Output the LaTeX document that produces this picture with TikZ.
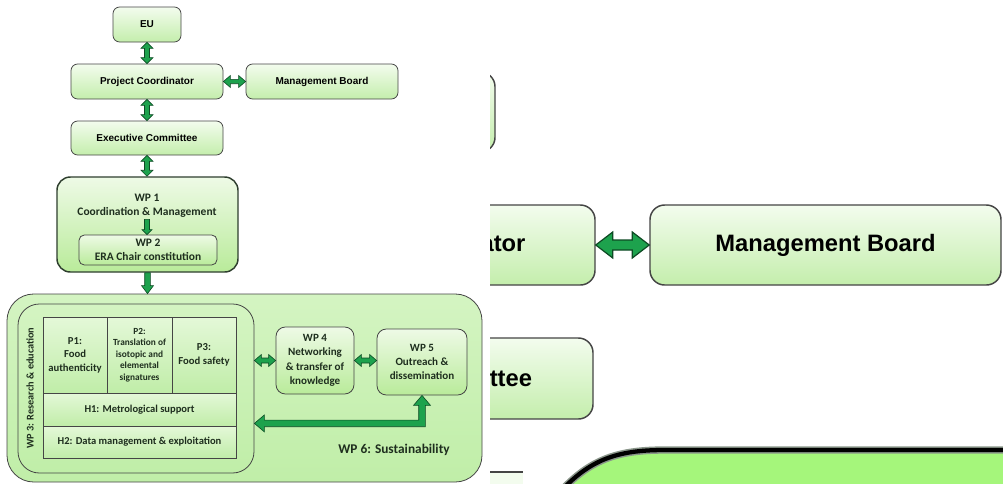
\documentclass[tikz,border=0pt]{standalone}
\usepackage{fontspec}
\newfontfamily\arialf{Liberation Sans}
\newfontfamily\carl{Carlito}
\usetikzlibrary{calc}

\definecolor{boxline}{HTML}{454545}
\definecolor{wp1line}{HTML}{2E3E2E}
\definecolor{topA}{HTML}{F3FCEE}
\definecolor{topB}{HTML}{C4EEAC}
\definecolor{wpA}{HTML}{EEFAE6}
\definecolor{wpB}{HTML}{B9EB9A}
\definecolor{outerA}{HTML}{D4F4C2}
\definecolor{outerB}{HTML}{C0EEA8}
\definecolor{cellA}{HTML}{E4F8D8}
\definecolor{cellB}{HTML}{C0EDA8}
\definecolor{txt}{HTML}{1E2E1E}
\definecolor{agreen}{HTML}{1DA24D}
\definecolor{adark}{HTML}{0E4A24}
\definecolor{brightgreen}{HTML}{A5F67B}
\definecolor{halo}{HTML}{8A968A}

% vertical double-headed block arrow: #1 upper end, #2 anchor giving the lower end,
% #3 head length, #4 head half-width, #5 shaft half-width
\newcommand\dblV[5]{%
  \coordinate (vT) at (#1);
  \coordinate (vB) at (vT |- #2);
  \draw[fatarrow] (vT) -- ($(vT)+(#4,#3)$) -- ($(vT)+(#5,#3)$) -- ($(vB)+(#5,-#3)$)
    -- ($(vB)+(#4,-#3)$) -- (vB) -- ($(vB)+(-#4,-#3)$) -- ($(vB)+(-#5,-#3)$)
    -- ($(vT)+(-#5,#3)$) -- ($(vT)+(-#4,#3)$) -- cycle;
}
% horizontal double-headed block arrow: #1 left end, #2 anchor giving the right end
\newcommand\dblH[5]{%
  \coordinate (hL) at (#1);
  \coordinate (hR) at (#2 |- hL);
  \draw[fatarrow] (hL) -- ($(hL)+(#3,-#4)$) -- ($(hL)+(#3,-#5)$) -- ($(hR)+(-#3,-#5)$)
    -- ($(hR)+(-#3,-#4)$) -- (hR) -- ($(hR)+(-#3,#4)$) -- ($(hR)+(-#3,#5)$)
    -- ($(hL)+(#3,#5)$) -- ($(hL)+(#3,#4)$) -- cycle;
}
% downward single block arrow: #1 top of the shaft, #2 anchor giving the tip
\newcommand\sglV[5]{%
  \coordinate (sT) at (#1);
  \coordinate (sB) at (sT |- #2);
  \draw[fatarrow] ($(sT)+(-#5,0)$) -- ($(sT)+(#5,0)$) -- ($(sB)+(#5,-#3)$)
    -- ($(sB)+(#4,-#3)$) -- (sB) -- ($(sB)+(-#4,-#3)$) -- ($(sB)+(-#5,-#3)$) -- cycle;
}

\tikzset{
  px/.style 2 args={minimum width=#1*0.75pt, minimum height=#2*0.75pt},
  topbox/.style={draw=boxline, line width=0.6pt, rounded corners=5pt,
    top color=topA, bottom color=topB, inner sep=0pt, align=center,
    font=\arialf\bfseries\fontsize{7.5}{9}\selectfont},
  zbox/.style={topbox, line width=1.1pt, rounded corners=11pt,
    font=\arialf\bfseries\fontsize{17.8}{20}\selectfont},
  wpbox/.style={draw=boxline, line width=0.6pt, rounded corners=6pt,
    top color=wpA, bottom color=wpB, inner sep=0pt, align=center, text=txt,
    font=\carl\bfseries\fontsize{8.3}{10.8}\selectfont},
  outerbox/.style={draw=boxline, line width=0.6pt, top color=outerA,
    bottom color=outerB, inner sep=0pt},
  cell/.style={draw=boxline, line width=0.6pt, top color=cellA, bottom color=cellB,
    inner sep=0pt, align=center, text=txt,
    font=\carl\bfseries\fontsize{8}{10.2}\selectfont},
  lbl/.style={inner sep=1pt, align=center, text=txt,
    font=\carl\bfseries\fontsize{8.6}{10.5}\selectfont},
  fatarrow/.style={fill=agreen, draw=adark, line width=0.45pt, line join=miter},
}

\begin{document}
\begin{tikzpicture}[x=0.75pt, y=-0.75pt]
\path[use as bounding box, fill=white] (0,0) rectangle (1003,483);

% ---------- governance ----------
\node[topbox, px={68}{35}] (eu) at (147,24.5) {EU};
\node[topbox, px={152}{35}] (pc) at (147,81.5) {Project Coordinator};
\node[topbox, px={152}{35}] (mb) at (322,81.5) {Management Board};
\node[topbox, px={152}{34}] (ec) at (147,138) {Executive Committee};

% ---------- WP 1 / WP 2 ----------
\node[wpbox, px={181}{95}, line width=1.1pt, draw=wp1line, rounded corners=10pt]
  (wp1) at (147.5,224.5) {};
\node[lbl] (wp1t) at (147,206) {WP 1\\Coordination \& Management};
\node[wpbox, px={138}{30}, rounded corners=4pt, font=\carl\bfseries\fontsize{8.6}{10.4}\selectfont]
  (wp2) at (148,250) {WP 2\\ERA Chair constitution};

% ---------- WP 6 with WP 3, WP 4, WP 5 ----------
\node[outerbox, px={475}{188}, rounded corners=20pt] (wp6) at (244.5,388) {};
\node[outerbox, px={236}{169}, rounded corners=16pt] (wp3) at (136,388.5) {};
\node[lbl, rotate=90, font=\carl\bfseries\fontsize{7.7}{9}\selectfont] (wp3t) at (30,388)
  {WP 3: Research \& education};

\node[cell, px={64}{76}] (p1) at (75,355) {P1:\\Food\\authenticity};
\node[cell, px={65}{76}, font=\carl\bfseries\fontsize{7}{8.7}\selectfont] (p2) at (139.5,355)
  {P2:\\Translation of\\isotopic and\\elemental\\signatures};
\node[cell, px={64}{76}] (p3) at (204,355) {P3:\\Food safety};
\node[cell, px={193}{33}, font=\carl\bfseries\fontsize{7.9}{9}\selectfont] (h1) at (139.5,409.5)
  {H1: Metrological support};
\node[cell, px={193}{32}, font=\carl\bfseries\fontsize{7.9}{9}\selectfont] (h2) at (139.5,442)
  {H2: Data management \& exploitation};

\node[wpbox, px={78}{67}, rounded corners=7pt] (wp4) at (315,360.5)
  {WP 4\\Networking\\\& transfer of\\knowledge};
\node[wpbox, px={90}{66}, rounded corners=7pt] (wp5) at (422,362)
  {WP 5\\Outreach \&\\dissemination};
\node[lbl, font=\carl\bfseries\fontsize{10}{12}\selectfont] (wp6t) at (394,450)
  {WP 6: Sustainability};

% ---------- connectors ----------
\dblV{eu.south}{pc.north}{6}{6}{2.5}
\dblH{pc.east}{mb.west}{7}{6}{2.2}
\dblV{pc.south}{ec.north}{6}{6}{2.5}
\dblV{ec.south}{wp1.north}{6}{6}{2.5}
\sglV{wp1t.south}{wp2.north}{5}{5}{2.5}
\sglV{wp1.south}{wp6.north}{8}{6}{2.8}
\dblH{wp3.east |- wp4.west}{wp4.west}{7}{6}{2.5}
\dblH{wp4.east}{wp5.west}{7}{6}{2.5}

% WP 5 <-> WP 3 elbow arrow
\coordinate (eU) at (wp5.south);
\coordinate (eC) at ($(eU)+(0,28)$);
\coordinate (eL) at (wp3.east |- eC);
\draw[fatarrow] (eU) -- ($(eU)+(8.5,10)$) -- ($(eU)+(3.3,10)$) -- ($(eC)+(3.3,3.3)$)
  -- ($(eL)+(10,3.3)$) -- ($(eL)+(10,8.5)$) -- (eL) -- ($(eL)+(10,-8.5)$)
  -- ($(eL)+(10,-3.3)$) -- ($(eC)+(-3.3,-3.3)$) -- ($(eU)+(-3.3,10)$)
  -- ($(eU)+(-8.5,10)$) -- cycle;

% ---------- enlarged view ----------
\begin{scope}
  \clip (490,0) rectangle (1003,483);
  \node[zbox, px={160}{80}] (zeu) at (415,112) {};
  \node[zbox, px={362}{80}] (zpc) at (414,245) {Project Coordinator};
  \node[zbox, px={351}{80}] (zmb) at (825.5,245) {Management Board};
  \node[zbox, px={362}{81}] (zec) at (412,378.5) {Executive Committee};
  \begin{scope}[fatarrow/.append style={line width=0.9pt}]
    \dblH{zpc.east}{zmb.west}{17}{13}{5}
  \end{scope}
  \fill[topA] (470,472) rectangle (523,490);
  \draw[boxline, line width=1pt] (470,472) -- (523,472);
  \fill[brightgreen] (562,490) .. controls (592,458) and (620,450) .. (665,450)
    -- (1010,450) -- (1010,490) -- cycle;
  \draw[halo, line width=5.5pt] (562,490) .. controls (592,458) and (620,450) .. (665,450)
    -- (1010,450);
  \draw[black, line width=3.2pt] (562,490) .. controls (592,458) and (620,450) .. (665,450)
    -- (1010,450);
\end{scope}
\end{tikzpicture}
\end{document}
